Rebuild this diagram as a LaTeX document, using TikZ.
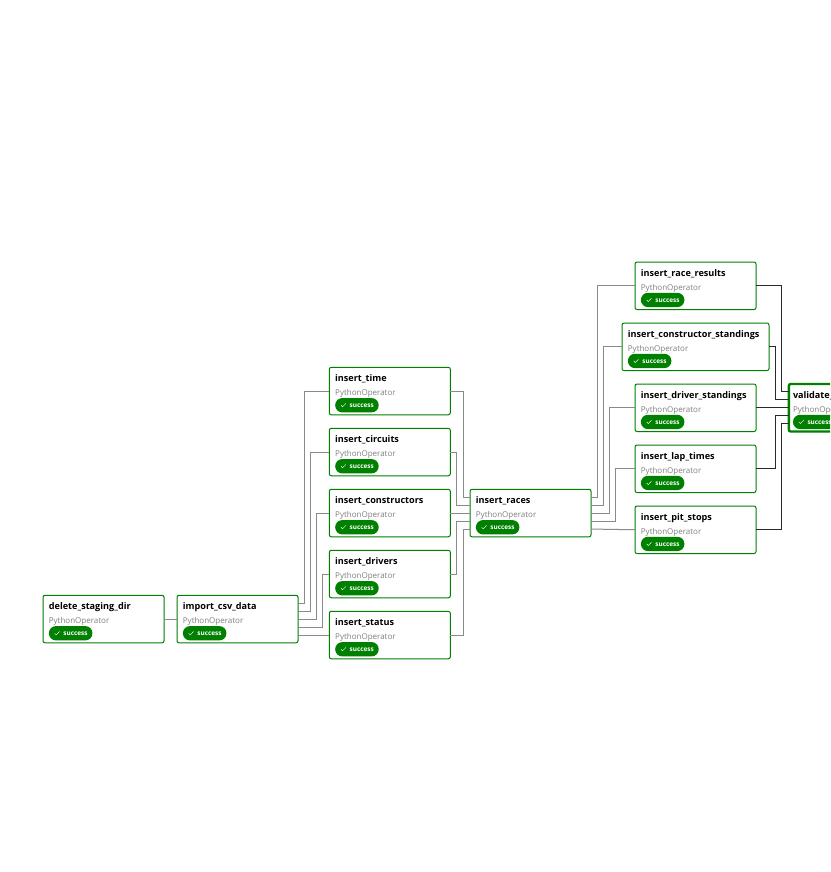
\documentclass[tikz,border=0pt]{standalone}
\usepackage{fontspec}
\setmainfont{Open Sans}
\usepackage{tikz}
\definecolor{taskgreen}{HTML}{008000}
\definecolor{edgegrey}{HTML}{8A8A8A}
\definecolor{edgedark}{HTML}{2A2A2A}
\newcommand{\wA}{121}
\newcommand{\wB}{147}
\newcommand{\taskinset}{5.7pt}
\tikzset{
	taskbox/.style = {draw = taskgreen, fill = white, line width = 1pt, rounded corners = 2pt, minimum height = 47.5pt, anchor = north west, outer sep = 0pt, inner sep = 0pt},
	tasktitle/.style = {anchor = base west, inner sep = 0pt, font = \fontsize{9.1pt}{10pt}\selectfont\bfseries},
	tasksub/.style = {anchor = base west, inner sep = 0pt, text = black!50, font = \fontsize{8pt}{9pt}\selectfont},
	taskpill/.style = {anchor = north west, fill = taskgreen, rounded corners = 7pt, minimum width = 43.5pt, minimum height = 14.3pt, inner sep = 0pt},
	taskstate/.style = {anchor = base west, inner sep = 0pt, text = white, font = \fontsize{6.4pt}{8pt}\selectfont\bfseries},
	edge/.style = {draw = edgegrey, line width = 1pt},
	edgeend/.style = {draw = edgedark, line width = 1pt}
}
% options, name, x, y, width, title
\newcommand{\tasknode}[6][]{
	\node[taskbox, minimum width = #5pt, #1] (#2) at (#3, #4) {};
	\node[tasktitle] (#2title) at ([xshift = \taskinset, yshift = -14.3pt]#2.north west) {#6};
	\node[tasksub] (#2sub) at ([xshift = \taskinset, yshift = -28.3pt]#2.north west) {PythonOperator};
	\node[taskpill] (#2pill) at ([xshift = \taskinset, yshift = -30.6pt]#2.north west) {};
	\draw[white, line width = 0.4pt] ([xshift = 6pt]#2pill.west) -- ++(1.6, 1.6) -- ++(3.2, -3.4);
	\node[taskstate] (#2state) at ([xshift = 14.5pt, yshift = -2.4pt]#2pill.west) {success};
}
\begin{document}
\begin{tikzpicture}[x = 1pt, y = -1pt]
	\useasboundingbox (0, 0) rectangle (830, 872);
	\clip (0, 0) rectangle (830, 872);

	% First two
	\tasknode{delete}{43}{595.3}{\wA}{delete\_staging\_dir}
	\tasknode{import}{177}{595.3}{\wA}{import\_csv\_data}
	% Tables
	\tasknode{time}{329.3}{367.3}{\wA}{insert\_time}
	\tasknode{circuits}{329.3}{428.3}{\wA}{insert\_circuits}
	\tasknode{constructors}{329.3}{489.3}{\wA}{insert\_constructors}
	\tasknode{drivers}{329.3}{550.3}{\wA}{insert\_drivers}
	\tasknode{status}{329.3}{611.3}{\wA}{insert\_status}
	\tasknode{races}{470}{489.3}{\wA}{insert\_races}
	% Results
	\tasknode{results}{635}{262}{\wA}{insert\_race\_results}
	\tasknode{cstandings}{622}{323}{\wB}{insert\_constructor\_standings}
	\tasknode{dstandings}{635}{384}{\wA}{insert\_driver\_standings}
	\tasknode{laps}{635}{445}{\wA}{insert\_lap\_times}
	\tasknode{stops}{635}{506}{\wA}{insert\_pit\_stops}
	\renewcommand{\taskinset}{4pt}
	\tasknode[line width = 2.4pt]{validate}{788.8}{384}{\wA}{validate\_}

	% Delete to import
	\draw[edge] (delete) -- (import);
	% Import to tables
	\draw[edge] ([yshift = 16pt]import.east) -- ++(6.7, 0) |- (time.west);
	\draw[edge] ([yshift = 8pt]import.east) -- ++(12.7, 0) |- (circuits.west);
	\draw[edge] (import.east) -- ++(18.7, 0) |- (constructors.west);
	\draw[edge] ([yshift = -8pt]import.east) -- ++(24.7, 0) |- (drivers.west);
	\draw[edge] ([yshift = -16pt]import.east) -- (status.west);
	% Tables to races
	\draw[edge] (time.east) -- ++(13, 0) |- ([yshift = 16pt]races.west);
	\draw[edge] (circuits.east) -- ++(6.4, 0) |- ([yshift = 8pt]races.west);
	\draw[edge] (constructors.east) -- (races.west);
	\draw[edge] (drivers.east) -- ++(6.4, 0) |- ([yshift = -8pt]races.west);
	\draw[edge] (status.east) -- ++(13, 0) |- ([yshift = -16pt]races.west);
	% Races to results
	\draw[edge] ([yshift = 16pt]races.east) -- ++(6.3, 0) |- (results.west);
	\draw[edge] ([yshift = 8pt]races.east) -- ++(12.3, 0) |- (cstandings.west);
	\draw[edge] (races.east) -- ++(18.3, 0) |- (dstandings.west);
	\draw[edge] ([yshift = -8pt]races.east) -- ++(24.3, 0) |- (laps.west);
	\draw[edge] ([yshift = -16pt]races.east) -- (stops.west);
	% Results to validate
	\draw[edgeend] (results.east) -- ++(25.3, 0) |- ([yshift = 16pt]validate.west);
	\draw[edgeend] (cstandings.east) -- ++(6.3, 0) |- ([yshift = 8pt]validate.west);
	\draw[edgeend] (dstandings.east) -- (validate.west);
	\draw[edgeend] (laps.east) -- ++(19.3, 0) |- ([yshift = -8pt]validate.west);
	\draw[edgeend] (stops.east) -- ++(25.3, 0) |- ([yshift = -16pt]validate.west);
\end{tikzpicture}
\end{document}
